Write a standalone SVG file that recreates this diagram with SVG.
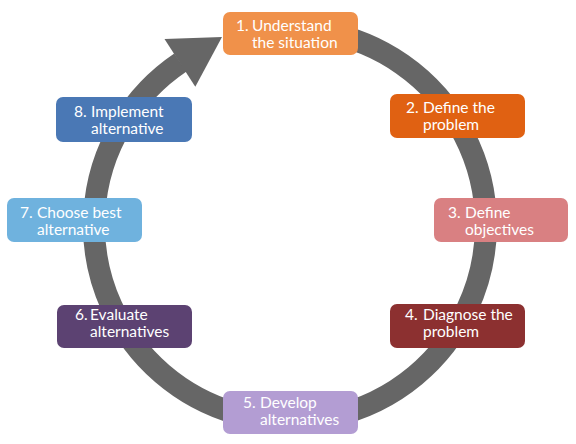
<svg xmlns="http://www.w3.org/2000/svg" width="576" height="444" viewBox="0 0 576 444">
<style>
.box{stroke:none}
.t{font-family:Lato,"Open Sans","Liberation Sans",sans-serif;font-size:15.5px;fill:#ffffff}
</style>
<rect width="576" height="444" fill="#ffffff"/>
<g id="connectors">
<path d="M324,32 A196,196 0 1 1 180.4,62.5" fill="none" stroke="#666666" stroke-width="22"/>
<polygon points="164.5,38.9 222,37 195.3,86.8" fill="#666666"/>
</g>
<g id="n1"><rect class="box" x="223" y="12" width="135" height="43" rx="7" fill="#F0914A"/>
<text class="t"><tspan x="236" y="31">1.</tspan><tspan x="252" y="31">Understand</tspan><tspan x="252" y="48">the situation</tspan></text></g>
<g id="n2"><rect class="box" x="390" y="94" width="135" height="44" rx="7" fill="#E06112"/>
<text class="t"><tspan x="406" y="113">2.</tspan><tspan x="423" y="113">Define the</tspan><tspan x="423" y="130">problem</tspan></text></g>
<g id="n3"><rect class="box" x="434" y="198" width="134" height="44" rx="7" fill="#D98082"/>
<text class="t"><tspan x="448" y="218">3.</tspan><tspan x="465" y="218">Define</tspan><tspan x="465" y="235">objectives</tspan></text></g>
<g id="n4"><rect class="box" x="390" y="304" width="135" height="44" rx="7" fill="#8C3030"/>
<text class="t"><tspan x="405" y="320">4.</tspan><tspan x="423" y="320">Diagnose the</tspan><tspan x="423" y="337">problem</tspan></text></g>
<g id="n5"><rect class="box" x="223" y="391" width="135" height="43" rx="7" fill="#B39DD3"/>
<text class="t"><tspan x="243" y="408">5.</tspan><tspan x="260" y="408">Develop</tspan><tspan x="260" y="425">alternatives</tspan></text></g>
<g id="n6"><rect class="box" x="57" y="305" width="135" height="43" rx="7" fill="#5C4272"/>
<text class="t"><tspan x="75" y="320">6.</tspan><tspan x="90" y="320">Evaluate</tspan><tspan x="90" y="337">alternatives</tspan></text></g>
<g id="n7"><rect class="box" x="7" y="198" width="135" height="44" rx="7" fill="#6FB2DE"/>
<text class="t"><tspan x="20" y="218">7.</tspan><tspan x="37" y="218">Choose best</tspan><tspan x="37" y="235">alternative</tspan></text></g>
<g id="n8"><rect class="box" x="56" y="97" width="136" height="45" rx="7" fill="#4A78B5"/>
<text class="t"><tspan x="74" y="117">8.</tspan><tspan x="91" y="117">Implement</tspan><tspan x="91" y="134">alternative</tspan></text></g>
</svg>
